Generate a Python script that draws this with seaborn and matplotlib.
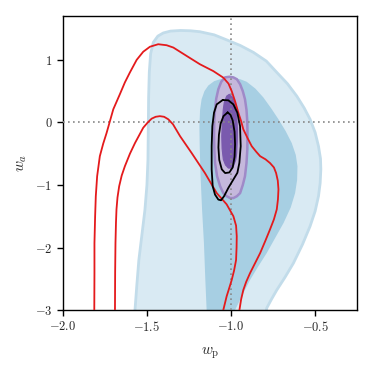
import numpy as np
import pandas as pd
import matplotlib
matplotlib.use("Agg")
import matplotlib.pyplot as plt
import seaborn as sns
from matplotlib.ticker import FuncFormatter

# ---- contour vertices (w_p, w_a) ----
outer_blue_wp = [-1.571, -1.571, -1.560, -1.548, -1.530, -1.512, -1.500, -1.494, -1.492, -1.490, -1.486,
                 -1.478, -1.462, -1.435, -1.403, -1.36, -1.30, -1.24, -1.185, -1.10, -1.026, -0.945,
                 -0.867, -0.79, -0.728, -0.665, -0.609, -0.565, -0.530, -0.500, -0.480, -0.468, -0.466,
                 -0.470, -0.480, -0.500, -0.530, -0.575, -0.629, -0.680, -0.728, -0.760, -0.788, -0.800]
outer_blue_wa = [-3.2, -3.0, -2.6, -2.2, -1.8, -1.4, -1.0, -0.6, -0.1, 0.4, 0.8,
                 1.10, 1.28, 1.38, 1.43, 1.46, 1.47, 1.465, 1.45, 1.40, 1.32, 1.23,
                 1.12, 0.98, 0.80, 0.62, 0.42, 0.23, 0.05, -0.16, -0.38, -0.58, -0.75,
                 -0.97, -1.18, -1.42, -1.66, -1.95, -2.25, -2.48, -2.68, -2.83, -2.97, -3.2]

inner_blue_wp = [-1.145, -1.145, -1.153, -1.161, -1.172, -1.181, -1.186, -1.188, -1.184, -1.175, -1.158,
                 -1.135, -1.10, -1.065, -1.025, -0.986, -0.945, -0.907, -0.855, -0.808, -0.760, -0.718,
                 -0.675, -0.639, -0.615, -0.605, -0.607, -0.619, -0.645, -0.688, -0.738, -0.788, -0.840,
                 -0.887, -0.925, -0.956, -0.976, -0.985]
inner_blue_wa = [-3.2, -3.0, -2.5, -1.93, -1.4, -0.86, -0.4, -0.06, 0.20, 0.37, 0.50,
                 0.59, 0.66, 0.69, 0.71, 0.71, 0.69, 0.65, 0.54, 0.40, 0.22, 0.05,
                 -0.14, -0.33, -0.52, -0.70, -0.92, -1.13, -1.36, -1.61, -1.85, -2.09, -2.31,
                 -2.52, -2.72, -2.89, -3.0, -3.2]

outer_purple_wp = [-0.986, -1.010, -1.036, -1.058, -1.0755, -1.088, -1.095, -1.100, -1.101, -1.099,
                   -1.095, -1.083, -1.065, -1.046, -1.026, -1.005, -0.986, -0.965, -0.946, -0.930,
                   -0.917, -0.908, -0.903, -0.902, -0.903, -0.908, -0.917, -0.930, -0.946, -0.965]
outer_purple_wa = [0.72, 0.73, 0.72, 0.65, 0.53, 0.38, 0.21, 0.0, -0.22, -0.45,
                   -0.65, -0.86, -1.02, -1.13, -1.18, -1.21, -1.21, -1.18, -1.13, -1.00,
                   -0.86, -0.65, -0.43, -0.2, 0.0, 0.2, 0.37, 0.50, 0.61, 0.69]

inner_purple_wp = [-1.010, -1.026, -1.040, -1.046, -1.052, -1.055, -1.053, -1.046, -1.033, -1.016,
                   -1.000, -0.986, -0.972, -0.966, -0.963, -0.962, -0.965, -0.970, -0.980, -0.990]
inner_purple_wa = [0.45, 0.42, 0.32, 0.21, 0.0, -0.22, -0.42, -0.59, -0.68, -0.73,
                   -0.73, -0.70, -0.60, -0.49, -0.30, -0.11, 0.05, 0.21, 0.33, 0.40]

outer_black_wp = [-1.0496, -1.0853, -1.1012, -1.1111, -1.1151, -1.1151, -1.109, -1.0952, -1.0754,
                  -1.0595, -1.0417, -1.0159, -0.9861, -0.9623, -0.9504, -0.9425, -0.9464, -0.9623,
                  -0.9861, -1.0159, -1.0496]
outer_black_wa = [0.358, 0.288, 0.155, -0.059, -0.379, -0.753, -1.020, -1.154, -1.234,
                  -1.245, -1.181, -1.047, -0.913, -0.806, -0.646, -0.379, -0.059, 0.155,
                  0.288, 0.353, 0.358]

inner_black_wp = [-1.020, -1.045, -1.062, -1.072, -1.075, -1.070, -1.055, -1.035, -1.010, -0.990,
                  -0.979, -0.976, -0.979, -0.990, -1.003, -1.020]
inner_black_wa = [0.16, 0.10, -0.02, -0.20, -0.40, -0.60, -0.75, -0.81, -0.80, -0.72,
                  -0.55, -0.35, -0.15, 0.03, 0.12, 0.16]

outer_red_wp = [-1.813, -1.812, -1.812, -1.808, -1.804, -1.796, -1.780, -1.760, -1.740, -1.700, -1.661,
                -1.631, -1.601, -1.561, -1.522, -1.482, -1.433, -1.383, -1.343, -1.264, -1.185, -1.105,
                -1.046, -1.015, -0.996, -0.975, -0.956, -0.940, -0.927, -0.900, -0.877, -0.850, -0.827,
                -0.795, -0.768, -0.745, -0.732, -0.722, -0.718, -0.721, -0.728, -0.745, -0.768, -0.797,
                -0.827, -0.857, -0.887, -0.910, -0.927, -0.940, -0.950]
outer_red_wa = [-3.0, -2.4, -1.93, -1.5, -1.18, -0.86, -0.54, -0.34, -0.17, 0.21, 0.45,
                0.64, 0.80, 1.00, 1.13, 1.21, 1.25, 1.234, 1.197, 1.063, 0.93, 0.82,
                0.716, 0.62, 0.50, 0.33, 0.15, 0.02, -0.11, -0.26, -0.38, -0.47, -0.54,
                -0.59, -0.65, -0.72, -0.81, -0.93, -1.07, -1.23, -1.39, -1.55, -1.71, -1.90,
                -2.09, -2.25, -2.41, -2.55, -2.68, -2.83, -3.0]

inner_red_wp = [-1.690, -1.689, -1.687, -1.684, -1.681, -1.675, -1.665, -1.650, -1.631, -1.601, -1.571,
                -1.545, -1.522, -1.495, -1.472, -1.448, -1.423, -1.398, -1.373, -1.345, -1.303, -1.234,
                -1.155, -1.085, -1.026, -0.986, -0.970, -0.966, -0.967, -0.970, -0.982, -0.996, -1.012,
                -1.026, -1.046]
inner_red_wa = [-3.0, -2.4, -1.93, -1.6, -1.39, -1.2, -1.02, -0.85, -0.70, -0.50, -0.33,
                -0.20, -0.085, 0.00, 0.06, 0.09, 0.10, 0.09, 0.05, -0.03, -0.22, -0.49,
                -0.81, -1.13, -1.31, -1.50, -1.65, -1.82, -2.0, -2.20, -2.37, -2.52, -2.66,
                -2.78, -3.0]

fiducial_wp = -1.0
fiducial_wa = 0.0
x_ticks = [-2.0, -1.5, -1.0, -0.5]
y_ticks = [-3, -2, -1, 0, 1]

# ---- style ----
sns.set_theme(style="ticks")
plt.rcParams["font.family"] = ["DejaVu Serif"]
plt.rcParams["mathtext.fontset"] = "cm"

fig = plt.figure(figsize=(3.74, 3.74), dpi=100)
ax = fig.add_axes([0.168, 0.171, 0.787, 0.786])

ax.fill(outer_blue_wp, outer_blue_wa, facecolor="#d9eaf3", edgecolor="#c2dcea", lw=2.0,
        joinstyle="round", zorder=1)
ax.fill(inner_blue_wp, inner_blue_wa, facecolor="#a7cfe3", edgecolor="none", zorder=2)
ax.fill(outer_purple_wp, outer_purple_wa, facecolor="#c5b8dc", edgecolor="#9f8ac8", lw=1.8,
        joinstyle="round", zorder=3)
ax.fill(inner_purple_wp, inner_purple_wa, facecolor="#7a5aae", edgecolor="#7a5aae", lw=0.8, zorder=4)

ax.axvline(fiducial_wp, color="#888888", ls=(0, (1, 2)), lw=1.2, zorder=5)
ax.axhline(fiducial_wa, color="#888888", ls=(0, (1, 2)), lw=1.2, zorder=5)

def path_df(xs, ys):
    return pd.DataFrame({"wp": xs, "wa": ys, "i": np.arange(len(xs))})

for xs, ys, c in [(outer_red_wp, outer_red_wa, "#e41a1c"),
                  (inner_red_wp, inner_red_wa, "#e41a1c"),
                  (outer_black_wp, outer_black_wa, "black"),
                  (inner_black_wp, inner_black_wa, "black")]:
    sns.lineplot(data=path_df(xs, ys), x="wp", y="wa", sort=False, estimator=None,
                 color=c, lw=1.3, ax=ax, zorder=6, solid_joinstyle="round")

ax.set_xlim(-2.0, -0.25)
ax.set_ylim(-3.0, 1.7)
ax.set_xticks(x_ticks)
ax.set_yticks(y_ticks)
ax.xaxis.set_major_formatter(FuncFormatter(lambda v, p: r"$%.1f$" % v))
ax.yaxis.set_major_formatter(FuncFormatter(lambda v, p: r"$%d$" % v))
ax.tick_params(labelsize=9, length=4, width=1, direction="out", color="black")
for s in ax.spines.values():
    s.set_visible(True)
    s.set_color("black")
    s.set_linewidth(1.0)
ax.set_xlabel(r"$w_{\rm p}$", fontsize=11, labelpad=8)
ax.set_ylabel(r"$w_a$", fontsize=11, labelpad=4)

fig.savefig("out.png", dpi=100)
